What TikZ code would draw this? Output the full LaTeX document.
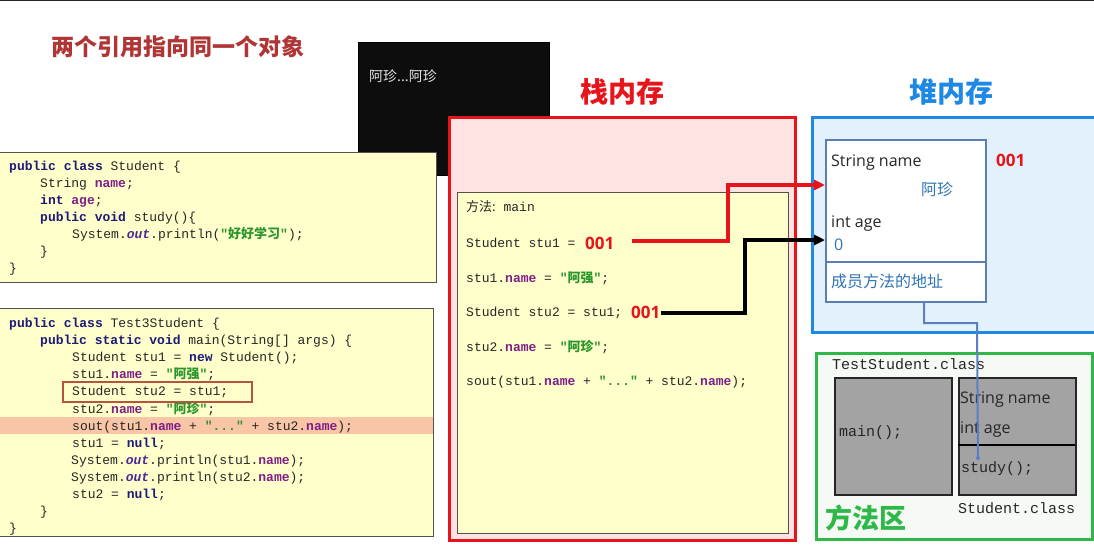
\documentclass[tikz,border=0pt]{standalone}
\usepackage{fontspec}
\setmainfont{Open Sans}
\setsansfont{Open Sans}
\setmonofont{Liberation Mono}
\newfontfamily\cjk{Noto Sans CJK SC}
\usetikzlibrary{arrows.meta}
\definecolor{kwc}{HTML}{1E1A78}
\definecolor{fldc}{HTML}{7F1F86}
\definecolor{outc}{HTML}{4B2A96}
\definecolor{strc}{HTML}{2A962A}
\definecolor{codec}{HTML}{262626}
\definecolor{codebg}{HTML}{FFFFCC}
\definecolor{titlec}{HTML}{B03636}
\definecolor{stackc}{HTML}{E8141C}
\definecolor{stackbg}{HTML}{FFE3E3}
\definecolor{heapc}{HTML}{1E88E5}
\definecolor{heapbg}{HTML}{E3F1FC}
\definecolor{greenc}{HTML}{2EB84A}
\definecolor{greenbg}{HTML}{F5FBF4}
\definecolor{objc}{HTML}{5B7FB5}
\definecolor{valc}{HTML}{2E75B6}
\definecolor{linkc}{HTML}{5B7FC0}
\definecolor{hlc}{HTML}{F8C6A6}
\definecolor{markc}{HTML}{B5553F}
\definecolor{grayboxc}{HTML}{A3A3A3}
\newcommand\kw[1]{\textcolor{kwc}{\bfseries #1}}
\newcommand\fld[1]{\textcolor{fldc}{\bfseries #1}}
\newcommand\ot[1]{\textcolor{outc}{\bfseries\itshape #1}}
\newcommand\st[1]{\textcolor{strc}{\bfseries #1}}
\newcommand\zh[1]{{\cjk #1}}
\tikzset{
  code/.style={anchor=base west, inner sep=0pt, text=codec, font=\ttfamily\fontsize{13}{15}\selectfont},
  mcode/.style={anchor=base west, inner sep=0pt, text=codec, font=\ttfamily\fontsize{15}{17}\selectfont},
  codebox/.style={draw=codec!80, line width=1pt, fill=codebg},
  sanstxt/.style={anchor=base west, inner sep=0pt, text=codec, font=\sffamily\fontsize{16}{18}\selectfont},
  cjktxt/.style={anchor=base west, inner sep=0pt, text=valc, font=\cjk\fontsize{16}{18}\selectfont},
  addr/.style={anchor=base west, inner sep=0pt, text=stackc, font=\sffamily\bfseries\fontsize{17}{19}\selectfont},
  bigtitle/.style={inner sep=0pt, font=\cjk\bfseries\fontsize{28}{30}\selectfont},
  refarrow/.style={line width=3.2pt, -{Triangle[length=11pt,width=10pt]}},
}
\begin{document}
\begin{tikzpicture}[x=1pt,y=-1pt]
\useasboundingbox (0,0) rectangle (1094,544);
\clip (0,0) rectangle (1094,544);
\fill[white] (0,0) rectangle (1094,544);
\draw[codec, line width=1.5pt] (0,0.5) -- (1094,0.5);

% title
\node[inner sep=0pt, text=titlec, font=\cjk\bfseries\fontsize{23}{26}\selectfont] (title) at (178,47) {两个引用指向同一个对象};

% console
\node[draw=black, fill=black!95, minimum width=191pt, minimum height=133pt, anchor=north west, inner sep=0pt] (console) at (358,42) {};
\node[anchor=west, inner sep=0pt, text=black!10, font=\cjk\fontsize{14}{16}\selectfont] (out) at (369,76) {阿珍...阿珍};

% code box 1
\draw[codebox] (-2,152) rectangle (436,282);
\node[code] (a1) at (9,170.5) {\kw{public} \kw{class} Student \{};
\node[code] (a2) at (40,187.5) {String \fld{name};};
\node[code] (a3) at (40,204.5) {\kw{int} \fld{age};};
\node[code] (a4) at (40,221.5) {\kw{public} \kw{void} study()\{};
\node[code] (a5) at (72,238.5) {System.\ot{out}.println(\st{"\zh{好好学习}"});};
\node[code] (a6) at (40,255.5) {\}};
\node[code] (a7) at (9,272.5) {\}};

% code box 2
\draw[codebox] (-2,308) rectangle (433,536);
\fill[hlc] (0,417) rectangle (432.5,434);
\node[code] (b1) at (9,327.5) {\kw{public} \kw{class} Test3Student \{};
\node[code] (b2) at (40,344.6) {\kw{public} \kw{static} \kw{void} main(String[] args) \{};
\node[code] (b3) at (72,361.7) {Student stu1 = \kw{new} Student();};
\node[code] (b4) at (72,378.8) {stu1.\fld{name} = \st{"\zh{阿强}"};};
\node[code] (b5) at (72,395.9) {Student stu2 = stu1;};
\node[code] (b6) at (72,413.0) {stu2.\fld{name} = \st{"\zh{阿珍}"};};
\node[code] (b7) at (72,430.1) {sout(stu1.\fld{name} + \st{"..."} + stu2.\fld{name});};
\node[code] (b8) at (72,447.2) {stu1 = \kw{null};};
\node[code] (b9) at (71,464.3) {System.\ot{out}.println(stu1.\fld{name});};
\node[code] (b10) at (71,481.4) {System.\ot{out}.println(stu2.\fld{name});};
\node[code] (b11) at (72,498.5) {stu2 = \kw{null};};
\node[code] (b12) at (40,515.6) {\}};
\node[code] (b13) at (9,532.7) {\}};
\draw[markc, line width=1.6pt] (63,382) rectangle (252,402);

% stack
\node[bigtitle, text=stackc] (stackt) at (622,92) {栈内存};
\draw[stackc, fill=stackbg, line width=3pt] (449,117) rectangle (795,540);
\draw[codebox] (457,192) rectangle (788,533);
\node[code] (s0) at (466,211.5) {\zh{方法:} main};
\node[code] (s1) at (466,247.5) {Student stu1 =};
\node[addr] (n1) at (585,249) {001};
\node[code] (s2) at (466,282.5) {stu1.\fld{name} = \st{"\zh{阿强}"};};
\node[code] (s3) at (466,316.5) {Student stu2 = stu1;};
\node[addr] (n2) at (631,318) {001};
\node[code] (s4) at (466,351.5) {stu2.\fld{name} = \st{"\zh{阿珍}"};};
\node[code] (s5) at (466,385.5) {sout(stu1.\fld{name} + \st{"..."} + stu2.\fld{name});};

% heap
\node[bigtitle, text=heapc] (heapt) at (951,92) {堆内存};
\draw[heapc, fill=heapbg, line width=3pt] (812,117) rectangle (1110,332);
\node[draw=objc, fill=white, line width=1.5pt, anchor=north west, minimum width=160pt, minimum height=162pt, inner sep=0pt] (obj) at (825,139) {};
\draw[objc, line width=1.5pt] (825,262) -- (985,262);
\node[sanstxt] (h1) at (831,166) {String name};
\node[cjktxt] (h2) at (921,195) {阿珍};
\node[sanstxt] (h3) at (831,227) {int age};
\node[sanstxt, text=valc] (h4) at (834,250) {0};
\node[cjktxt] (h5) at (831,287) {成员方法的地址};
\node[addr] (n3) at (996,166) {001};

% method area
\draw[greenc, fill=greenbg, line width=3pt] (816,353) rectangle (1092,539);
\node[mcode] (m0) at (832,369) {TestStudent.class};
\node[draw=codec, fill=grayboxc, line width=1.5pt, anchor=north west, minimum width=117pt, minimum height=117pt, inner sep=0pt] (mainbox) at (834,377) {};
\node[mcode] (m1) at (839,436) {main();};
\node[draw=codec, fill=grayboxc, line width=1.5pt, anchor=north west, minimum width=117pt, minimum height=117pt, inner sep=0pt] (stubox) at (958,377) {};
\draw[black, line width=2.5pt] (958,445) -- (1075,445);
\node[sanstxt] (m2) at (960,403) {String name};
\node[sanstxt] (m3) at (960,433) {int age};
\node[mcode] (m4) at (961,472) {study();};
\node[mcode] (m5) at (958,513) {Student.class};
\node[inner sep=0pt, text=greenc, font=\cjk\bfseries\fontsize{27}{30}\selectfont] (mat) at (866,518) {方法区};

% connectors
\coordinate (r1) at (728,185);
\coordinate (k1) at (745,240);
\draw[refarrow, stackc] ([xshift=17pt]n1.east |- 0,241) -| (r1) -- (obj.west |- r1);
\draw[refarrow, black] (n2.east |- 0,313) -| (k1) -- (obj.west |- k1);
\coordinate (l1) at (924,301);
\coordinate (l2) at (977,323);
\coordinate (l3) at (978,458);
\draw[linkc, line width=2pt] (l1) |- (l2) -- (l3);
\fill[linkc] (l3) circle (2pt);
\end{tikzpicture}
\end{document}
